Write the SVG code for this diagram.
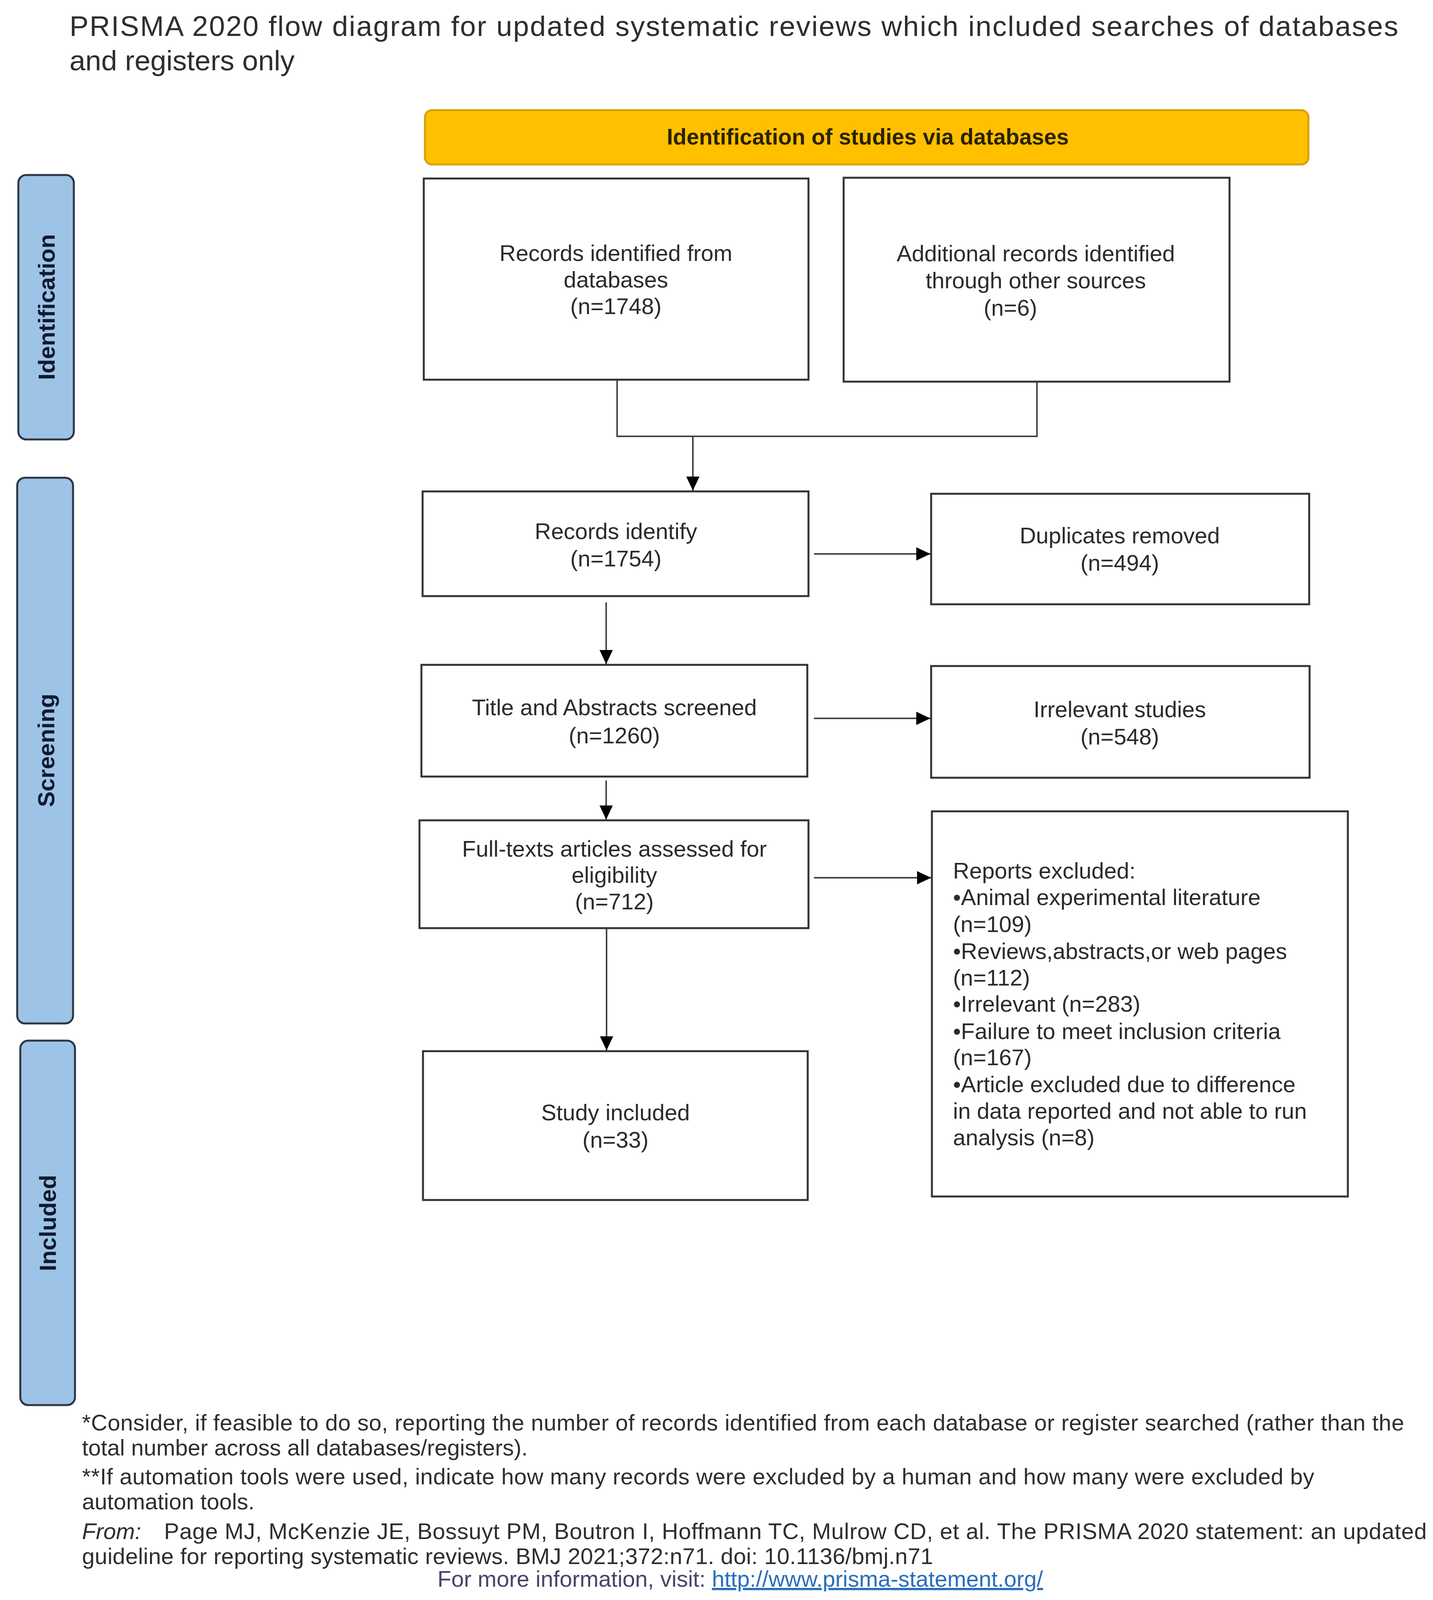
<svg xmlns="http://www.w3.org/2000/svg" width="3669" height="4756" viewBox="0 0 3669 4756">
<style>
.bg{fill:#ffffff}
.box{fill:#ffffff;stroke:#333333;stroke-width:5}
.t{font-family:"Liberation Sans",Arial,Helvetica,sans-serif;font-size:58px;fill:#2b2b2b}
.c{text-anchor:middle}
.side{fill:#9DC3E6;stroke:#2b3544;stroke-width:5}
.sl{font-family:"Liberation Sans",Arial,Helvetica,sans-serif;font-weight:bold;font-size:60px;fill:#111a2e;text-anchor:middle}
.hdr{fill:#FFC000;stroke:#D4A10A;stroke-width:5}
.ht{font-family:"Liberation Sans",Arial,Helvetica,sans-serif;font-weight:bold;font-size:57px;fill:#2a2200;text-anchor:middle}
.title{font-family:"Liberation Sans",Arial,Helvetica,sans-serif;font-size:73px;fill:#2e2e2e}
.fn{font-family:"Liberation Sans",Arial,Helvetica,sans-serif;font-size:58px;fill:#2e2e2e}
.conn{fill:none;stroke:#444444;stroke-width:4}
.arr{fill:none;stroke:#444444;stroke-width:4;marker-end:url(#ah)}
</style>
<defs>
<marker id="ah" markerUnits="userSpaceOnUse" markerWidth="36" markerHeight="34" refX="36" refY="17" orient="auto">
<path d="M0,0 L36,17 L0,34 Z" fill="#000000"/>
</marker>
</defs>
<rect class="bg" x="0" y="0" width="3669" height="4756"/>

<g id="title">
<text class="title" x="178" y="92" textLength="3402" lengthAdjust="spacing">PRISMA 2020 flow diagram for updated systematic reviews which included searches of databases</text>
<text class="title" x="178" y="180">and registers only</text>
</g>

<g id="header">
<rect class="hdr" x="1088" y="282" width="2262" height="139" rx="18" ry="18"/>
<text class="ht" x="2222" y="370">Identification of studies via databases</text>
</g>

<g id="side-identification">
<rect class="side" x="47" y="448" width="142" height="677" rx="20" ry="20"/>
<text class="sl" transform="translate(140,786) rotate(-90)">Identification</text>
</g>
<g id="side-screening">
<rect class="side" x="44" y="1223" width="143" height="1397" rx="20" ry="20"/>
<text class="sl" transform="translate(139,1921) rotate(-90)">Screening</text>
</g>
<g id="side-included">
<rect class="side" x="52" y="2664" width="140" height="933" rx="20" ry="20"/>
<text class="sl" transform="translate(143,3131) rotate(-90)">Included</text>
</g>

<g id="connectors">
<path class="conn" d="M1580,972 V1117 H2655 V977"/>
<path class="arr" d="M1774,1117 V1256"/>
<path class="arr" d="M1552,1542 V1700"/>
<path class="arr" d="M1552,1998 V2098"/>
<path class="arr" d="M1553,2376 V2689"/>
<path class="arr" d="M2084,1418 H2382"/>
<path class="arr" d="M2084,1839 H2382"/>
<path class="arr" d="M2084,2247 H2384"/>
</g>

<g id="n-records-db">
<rect class="box" x="1085" y="457" width="985" height="515"/>
<text class="t c" x="1577" y="668">Records identified from</text>
<text class="t c" x="1577" y="736">databases</text>
<text class="t c" x="1577" y="804">(n=1748)</text>
</g>

<g id="n-records-other">
<rect class="box" x="2160" y="455" width="988" height="522"/>
<text class="t c" x="2652" y="669">Additional records identified</text>
<text class="t c" x="2652" y="738">through other sources</text>
<text class="t c" x="2587" y="808">(n=6)</text>
</g>

<g id="n-records-identify">
<rect class="box" x="1082" y="1258" width="988" height="268"/>
<text class="t c" x="1577" y="1380">Records identify</text>
<text class="t c" x="1577" y="1450">(n=1754)</text>
</g>

<g id="n-duplicates">
<rect class="box" x="2384" y="1264" width="968" height="283"/>
<text class="t c" x="2867" y="1391">Duplicates removed</text>
<text class="t c" x="2867" y="1461">(n=494)</text>
</g>

<g id="n-title-abstract">
<rect class="box" x="1079" y="1702" width="988" height="286"/>
<text class="t c" x="1573" y="1831">Title and Abstracts screened</text>
<text class="t c" x="1573" y="1903">(n=1260)</text>
</g>

<g id="n-irrelevant">
<rect class="box" x="2384" y="1705" width="969" height="286"/>
<text class="t c" x="2867" y="1836">Irrelevant studies</text>
<text class="t c" x="2867" y="1906">(n=548)</text>
</g>

<g id="n-fulltext">
<rect class="box" x="1074" y="2100" width="996" height="276"/>
<text class="t c" x="1573" y="2193">Full-texts articles assessed for</text>
<text class="t c" x="1573" y="2260">eligibility</text>
<text class="t c" x="1573" y="2328">(n=712)</text>
</g>

<g id="n-reports-excluded">
<rect class="box" x="2386" y="2077" width="1065" height="986"/>
<text class="t" x="2440" y="2249">Reports excluded:</text>
<text class="t" x="2440" y="2317">•Animal experimental literature</text>
<text class="t" x="2440" y="2386">(n=109)</text>
<text class="t" x="2440" y="2455">•Reviews,abstracts,or web pages</text>
<text class="t" x="2440" y="2523">(n=112)</text>
<text class="t" x="2440" y="2590">•Irrelevant (n=283)</text>
<text class="t" x="2440" y="2660">•Failure to meet inclusion criteria</text>
<text class="t" x="2440" y="2727">(n=167)</text>
<text class="t" x="2440" y="2796">•Article excluded due to difference</text>
<text class="t" x="2440" y="2864">in data reported and not able to run</text>
<text class="t" x="2440" y="2932">analysis (n=8)</text>
</g>

<g id="n-included">
<rect class="box" x="1083" y="2691" width="985" height="381"/>
<text class="t c" x="1576" y="2868">Study included</text>
<text class="t c" x="1576" y="2938">(n=33)</text>
</g>

<g id="footnotes">
<text class="fn" x="210" y="3662" textLength="3385" lengthAdjust="spacing">*Consider, if feasible to do so, reporting the number of records identified from each database or register searched (rather than the</text>
<text class="fn" x="210" y="3726">total number across all databases/registers).</text>
<text class="fn" x="210" y="3800" textLength="3155" lengthAdjust="spacing">**If automation tools were used, indicate how many records were excluded by a human and how many were excluded by</text>
<text class="fn" x="210" y="3864">automation tools.</text>
<text class="fn" x="210" y="3940" font-style="italic">From:</text>
<text class="fn" x="420" y="3940" textLength="3233" lengthAdjust="spacing">Page MJ, McKenzie JE, Bossuyt PM, Boutron I, Hoffmann TC, Mulrow CD, et al. The PRISMA 2020 statement: an updated</text>
<text class="fn" x="210" y="4004" textLength="2179" lengthAdjust="spacing">guideline for reporting systematic reviews. BMJ 2021;372:n71. doi: 10.1136/bmj.n71</text>
<text class="fn" x="1120" y="4062"><tspan fill="#44466a">For more information, visit: </tspan><tspan fill="#2a6ebb" text-decoration="underline">http://www.prisma-statement.org/</tspan></text>
</g>
</svg>
